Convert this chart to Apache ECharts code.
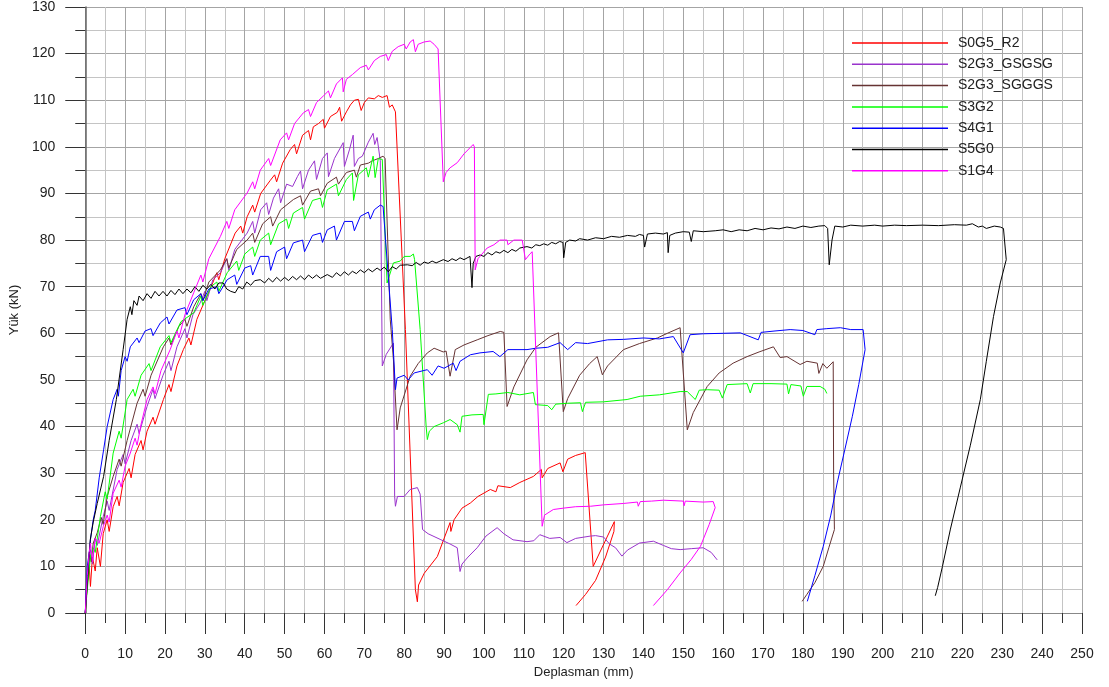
<!DOCTYPE html>
<html>
<head>
<meta charset="utf-8">
<script src="https://cdn.jsdelivr.net/npm/echarts@6/dist/echarts.min.js"></script>
<style>
html,body{margin:0;padding:0;background:#fff;}
#chart{width:1109px;height:687px;}
</style>
</head>
<body>
<div id="chart"></div>
<script>
// ---- Data (x: Deplasman mm, y: Yük kN) ----
const seriesNames = ['S0G5_R2','S2G3_GSGSG','S2G3_SGGGS','S3G2','S4G1','S5G0','S1G4'];
const seriesColors = ['#ff0000','#9933cc','#663333','#00ff00','#0000ff','#000000','#ff00ff'];

const S0G5_R2 = [[0,0],[0.5,6],[1,10],[1.3,5.7],[1.8,12],[2.5,9],[3,14],[3.8,10],[4.5,17],[5.5,20],[6,17.5],[7,22.8],[8,25],[8.5,23],[9.5,28],[11,31],[11.5,29],[12.5,34],[14,37],[14.5,35],[15.5,39],[17,42],[17.5,40.5],[19.6,45.8],[21,49],[21.5,47.5],[23,53],[24.6,56.5],[26,59],[26.5,57.5],[28,63],[30,67],[31.3,69.4],[33,73],[33.5,71.5],[35,76],[37.6,81.5],[39,83],[39.5,81.5],[40.6,85],[42,87.5],[42.5,86],[44,90],[46.4,92.8],[47.5,94],[48,92.5],[49.5,96.5],[51.4,99.4],[52.5,100.5],[53,98.5],[54.5,102.5],[56,103.5],[56.5,101.5],[57.2,104.3],[58.5,105],[59.7,105.9],[60,104],[61.5,106.5],[63.2,107.4],[63.8,108.5],[64.3,105.5],[65.5,107.5],[66.5,109],[67.5,110],[68.5,110.2],[69.2,107.8],[70,109.5],[71,110.5],[72.5,110.3],[73.5,111],[74.5,110.6],[75.7,111],[76.3,108.5],[77,109],[77.8,107.5],[80.3,60.8],[82.8,5],[83.3,2.4],[83.6,6],[85,8.5],[88.3,12.1],[90,16],[91.5,19.4],[91.7,17.5],[92.5,20],[94.5,22.5],[96.6,23.6],[98.5,25],[101.6,26.5],[103,26],[103.5,27.3],[106.6,26.9],[109,28],[112.4,29.3],[114.4,30.8],[114.6,29],[116,31],[119.1,32.2],[119.6,32.5],[119.8,30.3],[121,33],[123,33.8],[125.4,34.4],[127.4,10],[132.7,19.6],[132.6,17.5],[130.5,12],[128,7],[125.5,4],[123.1,1.6]];

const S2G3_GSGSG = [[0,0],[0.5,7],[1,12],[1.3,13.6],[1.8,10.5],[2.5,16],[3,14.5],[4.5,20.7],[5.5,24],[6,22],[8,30.8],[9.5,34],[10,32],[11.5,37],[13,40.5],[13.5,38.5],[15.5,44.3],[17,48],[17.5,46],[19.5,51],[21,54],[21.5,52],[23,57.1],[25,61],[25.5,59],[27,64],[28.8,66.5],[30,69],[30.5,67],[32,71.5],[33.9,73],[35.5,76],[36,73.5],[37.5,78],[40.6,81.5],[42,84],[42.5,81.5],[44,86.5],[45.5,88],[46,85.5],[47.2,89],[48.5,91],[49,88],[50.5,92],[52,91.5],[53.2,93.6],[54,94.8],[54.5,91],[56,95],[57.5,97],[58,93],[59.5,97.5],[60.7,98.7],[61,93.6],[62.5,97.5],[64.7,100.9],[65,95.8],[66.3,99.5],[67.2,102.5],[67.5,95.8],[68.5,97.5],[69.5,98],[71,101],[72.2,102.9],[72.6,100.5],[73.2,102],[74,97],[74.5,53],[75.5,55.5],[77.3,57.9],[77.6,25],[77.8,22.9],[78.3,25],[80,25],[81.5,26.5],[83.3,26.9],[84,25.5],[84.6,17.9],[86,17],[89,15.8],[91.5,14.8],[93.3,14],[94,8.9],[94.5,10.5],[96,12],[98.3,14],[100.5,16.5],[103.3,18.3],[105,17],[107.3,15.7],[110.8,15.3],[112.5,15.5],[114,16.8],[116.5,16],[119.1,16.2],[120.8,15.1],[123,16],[126.7,16.5],[128,16.6],[130,16.3],[131.5,14.8],[133,14],[134.6,12.2],[136,13.5],[139,15],[142.5,15.4],[145,14.5],[147,13.8],[149.2,13.6],[152,13.8],[155,14],[157,13],[158.5,11.4]];

const S2G3_SGGGS = [[0,0],[0.5,8],[1,13],[1.5,11],[2,15],[3,17.2],[4,20.5],[4.5,19],[5.5,25],[7,29.3],[8.5,33],[9,31.5],[10.5,37],[13,45],[14.5,48],[15,46.5],[16.5,51],[19.6,57.1],[21,59],[21.5,57.5],[23.5,61.5],[25,63],[25.5,61.5],[27.2,65.7],[29,68.5],[29.5,67],[31,71],[33.9,73.6],[35.5,76],[36,74],[38,78],[40.6,80],[42,81.5],[42.5,79.5],[44.5,83.5],[46.5,85],[47,83],[49,86.5],[52.2,88.7],[54,89.5],[54.5,87.5],[56.5,90.5],[58.5,91],[59,89.5],[60.7,92.2],[63,93.5],[63.5,92],[65.5,94.5],[67.5,95],[68,93.5],[69,96.1],[71,96.5],[72,97],[73.5,97.5],[74.7,98],[75.2,97.5],[76.5,62.9],[77.3,54.3],[78.2,39.3],[79,44],[81.5,50.8],[83.5,53.5],[85.8,55.8],[87.5,56.8],[89.8,56],[90.5,56.2],[91.5,50.8],[92.8,56.5],[95,57.5],[98.3,58.6],[101,59.5],[104.1,60.4],[105,60.2],[105.8,44.3],[107.5,48.5],[110.8,54.3],[113,57],[116.6,59.3],[118.7,60.1],[119.9,43.2],[121,46],[124,51],[126.5,53.5],[128.4,55],[129.7,51.1],[131,53],[135,56.5],[139,57.8],[143.5,59],[146,60],[149.2,61.2],[149.7,61],[151,39.3],[152.5,43],[156,48.6],[159,51.5],[162.5,53.6],[166,55],[169,56],[172.6,57.1],[174.3,54.8],[176,55],[179.3,53.3],[181,54],[183.6,53.6],[184,51.4],[185,53.5],[186,52.5],[187.6,53.9],[187.7,30],[187.9,17.9],[186.5,14],[185.1,10],[183,6.5],[181,4],[179.8,2.5]];

const S3G2 = [[0,0],[0.5,5],[1.3,12.2],[2,14],[2.5,13],[3.8,20.7],[5,26],[5.5,24.5],[7,34.3],[8.5,39],[9,37.5],[10.5,45.8],[12,48],[12.5,46.5],[14,51],[16,53.5],[16.5,52],[18.8,57.1],[21,59.5],[21.5,58],[24,62.5],[27.2,64.4],[29,68],[29.5,66],[31.5,70],[33,71],[33.5,69],[35.6,73],[38,75.5],[38.5,73.5],[40,77],[42,78.5],[42.5,76.5],[43.9,80],[46,81.5],[46.5,79],[48.5,83.5],[50.5,84.5],[51,82.5],[52.2,85.8],[54.5,87],[55,84.5],[57,88.5],[59,89],[59.5,87],[60.7,90.8],[63,92],[63.5,89.5],[65.5,93],[67,94.4],[67.3,88.5],[68.5,94],[70.5,95.5],[71,93.5],[72.2,98],[72.7,93.4],[73.5,97.5],[74.5,97.3],[75.7,70.8],[77.3,75.1],[79,75.5],[80,76.5],[81.5,76.5],[82.3,77],[82.6,75.8],[84,60.8],[85.5,40],[85.8,37.2],[86.3,39],[87.5,40],[89.8,40.8],[91.5,41.5],[93.3,40.4],[94,38.8],[94.5,42.2],[97,42.5],[99.8,42.6],[100,40.4],[101.1,46.9],[103,47],[106,47.3],[109,46.8],[112.4,47.3],[112.9,44.7],[116,44.5],[117,43.6],[118,44.8],[121,45],[124.2,45.1],[124.7,43.2],[125.5,45.2],[130,45.3],[135.9,45.8],[139.2,46.5],[144,46.8],[149.2,47.5],[151,47.5],[153,45.8],[154,47.8],[156,47.9],[159,47.8],[159.8,46.1],[161,49],[166,49.2],[166.8,47.2],[167.5,49.2],[172,49.2],[176,49.1],[176.4,47],[177,49],[179.5,48.7],[180.1,46.5],[181,48.6],[184.3,48.6],[185.5,48],[186,47.1]];

const S4G1 = [[0,0],[0.5,10],[1,13],[1.3,15.7],[2,20],[2.5,22],[3.5,29],[4.6,35],[5.5,40],[7,45.8],[8,48],[8.3,46.5],[9,52],[10,55],[10.5,54],[11.3,57.1],[13,59],[13.5,58],[15,60.5],[16.5,61],[17,59.5],[18.8,62.2],[20.5,63.5],[21,62],[23,65],[25,65.5],[25.5,64],[27.2,67.2],[29,68.5],[29.5,67],[31,69.5],[33,70],[33.5,68.5],[35.6,71.5],[37.5,72.5],[38,70.5],[40,74],[41.5,74.5],[42,72.5],[43.9,76.5],[46,76.5],[46.5,73.5],[48,77.5],[50,78.5],[50.5,76],[52.2,79.4],[54.5,80],[55,77.5],[57,81],[59,81.5],[59.5,79.5],[60.7,82.2],[62.5,83],[63,80],[65,84],[67,84],[67.5,82],[69,85.1],[71,86],[71.5,84.5],[72.5,86.5],[74,87.5],[74.7,87.2],[75.2,87.2],[77,60.8],[77.8,47.9],[78.2,50.4],[80,51],[81,50],[82.5,51.5],[85.8,52.2],[87,51],[88.5,53],[90,52.5],[92.3,53.6],[93,52],[94,54],[96.6,55.4],[99,55.8],[102.3,56.1],[104,55],[106,56.5],[110.8,56.5],[113,56.8],[116,57],[119.1,58],[121,56.5],[123,58],[126,57.8],[131,58.6],[135,58.7],[140,59],[144,58.8],[147.5,59.3],[150,55.8],[151.7,59.7],[155,59.9],[160,60],[164.3,60.1],[168.8,58.6],[169.5,60.2],[173,60.5],[176.8,60.8],[180,60.6],[183,59.7],[183.5,60.8],[186,61],[189.4,61.2],[192,60.8],[195.1,60.8],[195.6,56.5],[194,49],[192.4,42.2],[190.5,35],[188.6,27.9],[187,21],[185.1,14.3],[183,8],[181.1,2.5]];

const S5G0 = [[0,0],[0.5,6],[1.25,15.7],[2,19.5],[3,23.5],[4.6,29.3],[6,37],[7.8,45.8],[9.5,56.5],[10.5,63],[11.3,65.7],[11.7,64],[12.2,67],[13,66],[13.5,68],[14.5,67],[15.5,68.5],[16.5,67.5],[17.5,69],[18.5,68],[19.5,69],[20.5,68],[21.5,69.2],[22.5,68.3],[23.5,69.5],[24.5,68.5],[25.5,69.5],[26.5,68.7],[27.5,70],[28.5,69],[29.5,70.3],[30.5,69.5],[31.5,70.5],[32.5,69.5],[33.5,70.8],[34.6,70.8],[35.5,69.5],[36.5,69],[37.6,68.7],[38.5,70],[39.5,69.5],[40.5,71],[41.5,70.3],[42.5,71.3],[43.9,71.5],[45,70.8],[46,71.8],[47,71],[48,72],[49,71.2],[50,72],[51,71.3],[52,72.2],[53,71.5],[54,72.3],[55,71.5],[56,72.5],[57,71.8],[58,72.5],[59,71.8],[60.7,72.6],[62,72],[63,73],[64,72.3],[65,73.2],[66,72.5],[67,73.3],[68,72.8],[69,73.6],[70,73],[71,73.8],[72,73.2],[73.2,74],[74,73.5],[75,74.2],[76,73.2],[77,74.3],[78,73.8],[79,74.6],[80.8,74.7],[82,74.5],[83,75.2],[84,74.6],[85,75.3],[86,75],[87,75.5],[88,75.1],[89.8,75.8],[91,75.4],[92,76],[93,75.6],[94,76.2],[95,75.8],[96.5,76.5],[97,69.8],[97.3,75],[98,76.5],[99,76.8],[100,76.5],[101,77.3],[102,76.8],[103,77.5],[104,77.2],[105,77.8],[106,77.3],[107,78],[108,77.6],[109,78.3],[110.8,78.6],[112,78.3],[113,79],[114,78.8],[115,79.2],[116,78.9],[117,79.5],[118,79.2],[119,79.7],[119.8,79.5],[120,76.2],[120.5,79.5],[121.5,80],[123,79.8],[124,80.3],[126,80],[128,80.5],[130,80.3],[132,80.8],[134,80.6],[136,81],[138,80.8],[139,81.2],[140,81],[140.3,78.5],[141,81.3],[143,81.5],[145,81.3],[146,81.6],[146.2,77.3],[146.6,81],[148,81.5],[150,81.8],[151.5,81.7],[152,79.7],[152.5,82],[155,81.8],[158,82],[160,82.2],[162,81.8],[164,82.2],[166,82],[168,82.5],[170,82.2],[172,82.6],[174,82.4],[176,82.8],[178,82.5],[180,83],[182,82.7],[184,83],[185.5,83.1],[186.2,82.5],[186.6,74.7],[187.3,80],[188,83],[190,82.8],[192,83.2],[195,83],[198,83.2],[200,83],[203,83.2],[206,83.1],[210,83.2],[214,83.1],[218,83.3],[221,83.2],[222.5,83.5],[224,82.8],[225,83],[226,82.5],[228,83],[229.5,82.8],[230.3,82.5],[231,75.8],[229.5,70.8],[227.8,63.6],[226,54],[224.5,45.8],[222,36],[219.5,27],[217,18],[215,10],[213.8,5.5],[213.2,3.7]];

const S1G4 = [[0,0],[0.5,8],[1,13],[1.3,15],[1.8,11],[2.5,16],[3.5,15],[4.5,18.5],[5.5,21],[6,19.5],[7,25.7],[8.5,28.5],[9,27],[10,31.5],[11.3,34.3],[12.5,37.5],[13,36],[14,40.5],[15.5,45.8],[17,48.5],[17.5,47],[19,52],[21.3,56.5],[23,60.5],[23.5,59],[25,64],[27.2,68.7],[29,72.5],[29.5,71],[31,76],[33.9,80.8],[35.5,84],[36,82.5],[37.5,86.5],[40.6,90.1],[42,92.5],[42.5,91],[43.9,95],[46,97.5],[46.5,96],[48.9,101.5],[50.5,103],[51,101.5],[52.5,105],[54.7,107.3],[56,108],[56.5,106.5],[58,109.5],[59.7,110.9],[61,112],[61.5,110.5],[63,113.5],[64.5,114.8],[64.7,111.8],[65.5,114.5],[67,115.5],[69,117],[70.5,117.5],[71,116.5],[72.5,118.5],[74,119.4],[75.5,119.8],[76,118.5],[77,120.5],[78.5,121.5],[80,122],[80.5,121],[81.5,122.5],[82.3,123],[82.8,120.4],[83.5,122],[85,122.5],[86.5,122.7],[87.5,122],[88.5,121],[89.8,92.5],[90.5,94.5],[91.5,95.5],[93.3,96.6],[95,98.5],[97.3,100.5],[97.6,100],[97.8,73.6],[98.5,76],[100.8,78.3],[102.5,79],[104,80],[105.8,80],[106,79],[107.5,80],[109.6,80],[110.4,75.8],[111.5,77],[112.1,77.5],[114.6,18.6],[114.9,18.3],[115.2,21],[117.4,22.2],[120,22.5],[123,22.8],[126.7,22.9],[130,23.2],[135,23.5],[138.5,23.8],[138.7,22.9],[139.2,23.9],[142,24],[145,24.2],[150,24],[150.2,23],[150.5,24],[155,23.8],[157.5,23.9],[158,22.6],[156.5,19],[154.3,14.3],[152,11.5],[149.2,8.6],[146,5],[142.5,1.6]];

const seriesData = [S0G5_R2, S2G3_GSGSG, S2G3_SGGGS, S3G2, S4G1, S5G0, S1G4];

const xTitle = 'Deplasman (mm)';
const yTitle = 'Yük (kN)';

const chart = echarts.init(document.getElementById('chart'), null, {renderer:'canvas'});
const font = 'Liberation Sans, Arial, sans-serif';

const option = {
  animation: false,
  backgroundColor: '#ffffff',
  textStyle: {fontFamily: font},
  grid: {left: 85, right: 27, top: 7, bottom: 74, containLabel: false},
  legend: {
    orient: 'vertical',
    left: 847, top: 31,
    itemWidth: 96, itemHeight: 1.5,
    itemGap: 7.3,
    icon: 'rect',
    data: seriesNames,
    textStyle: {fontFamily: font, fontSize: 14, color: '#222', lineHeight: 14, padding: [0,0,0,5]}
  },
  xAxis: {
    type: 'value', min: 0, max: 250, interval: 10,
    name: xTitle, nameLocation: 'middle', nameGap: 44,
    nameTextStyle: {fontFamily: font, fontSize: 13, color: '#222'},
    axisLine: {show: true, onZero: false, lineStyle: {color: '#888', width: 1}},
    axisTick: {show: true, length: 21, lineStyle: {color: '#333'}},
    minorTick: {show: true, splitNumber: 2, length: 10, lineStyle: {color: '#333'}},
    axisLabel: {margin: 34, fontFamily: font, fontSize: 14, color: '#222'},
    splitLine: {show: true, lineStyle: {color: '#a4a4a4', width: 1}},
    minorSplitLine: {show: true, lineStyle: {color: '#c4c4c4', width: 1}}
  },
  yAxis: {
    type: 'value', min: 0, max: 130, interval: 10,
    name: yTitle, nameLocation: 'middle', nameGap: 55,
    nameTextStyle: {fontFamily: font, fontSize: 13, color: '#222'},
    axisLine: {show: true, onZero: false, lineStyle: {color: '#666', width: 1.5}},
    axisTick: {show: true, length: 20, lineStyle: {color: '#333'}},
    minorTick: {show: true, splitNumber: 2, length: 10, lineStyle: {color: '#333'}},
    axisLabel: {margin: 30, fontFamily: font, fontSize: 14, color: '#222'},
    splitLine: {show: true, lineStyle: {color: '#a4a4a4', width: 1}},
    minorSplitLine: {show: true, lineStyle: {color: '#c4c4c4', width: 1}}
  },
  series: seriesNames.map((n, i) => ({
    name: n,
    type: 'line',
    data: seriesData[i],
    showSymbol: false,
    symbol: 'none',
    color: seriesColors[i],
    lineStyle: {width: 1, color: seriesColors[i]},
    clip: true
  }))
};
chart.setOption(option);
</script>
</body>
</html>
